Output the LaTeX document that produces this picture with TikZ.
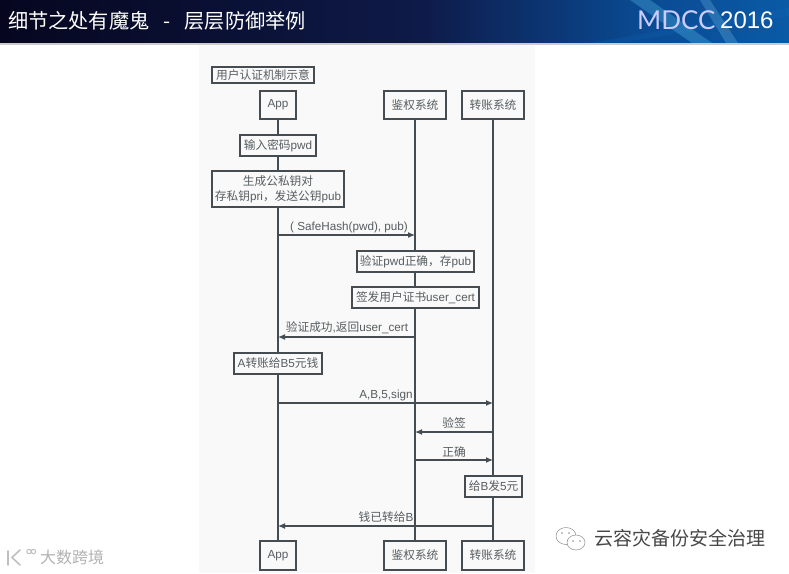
\documentclass[tikz,border=0pt]{standalone}
\usepackage{fontspec}
\setmainfont{Liberation Sans}
\newfontfamily\cjk{Noto Sans CJK SC}
\newfontfamily\latolight{Lato}
\newcommand{\Z}[1]{{\cjk #1}}
\definecolor{ink}{HTML}{454C52}
\definecolor{txt}{HTML}{585D61}
\definecolor{panel}{HTML}{F8F9F8}
\definecolor{hA}{HTML}{06061F}
\definecolor{hB}{HTML}{0E1A48}
\definecolor{hC}{HTML}{0A4A92}
\definecolor{hD}{HTML}{0A5AA6}
\tikzset{
  bx/.style={draw=ink,line width=1.2pt,fill=panel,text=txt,inner sep=0pt,align=center,font=\fontsize{11.7}{15}\selectfont},
  life/.style={draw=ink,line width=1.25pt},
  msg/.style={draw=ink,line width=1.25pt,-{Latex[length=7pt,width=6pt]}},
  lab/.style={text=txt,inner sep=0pt,font=\fontsize{11.7}{14}\selectfont},
}
\usetikzlibrary{arrows.meta}
\newcommand{\boxn}[6]{\node[bx,minimum width=#4pt-#2pt,minimum height=#5pt-#3pt] (#1) at ({(#2+#4)/2},{(#3+#5)/2}) {#6};}
\begin{document}
\begin{tikzpicture}[x=1pt,y=-1pt]
\useasboundingbox (0,0) rectangle (789,573);
\fill[white] (0,0) rectangle (789,573);
% header
\shade[left color=hA,right color=hB] (0,0) rectangle (420,43);
\shade[left color=hB,right color=hC] (420,0) rectangle (640,43);
\shade[left color=hC,right color=hD] (640,0) rectangle (789,43);
\begin{scope}
\clip (0,0) rectangle (789,43);
\fill[cyan!50!blue,opacity=.18] (590,43) -- (789,8) -- (789,16) -- (620,43) -- cycle;
\fill[cyan!60,opacity=.28] (630,0) -- (650,0) -- (712,43) -- (692,43) -- cycle;
\fill[cyan!40,opacity=.22] (700,0) -- (710,0) -- (738,43) -- (726,43) -- cycle;
\end{scope}
\fill[black!20] (0,43) rectangle (789,44.5);
\node[anchor=west,text=white,inner sep=0pt,font=\cjk\fontsize{20.2}{24}\selectfont] (title) at (8,21) {细节之处有魔鬼\hspace{14pt}-\hspace{14pt}层层防御举例};
\node[anchor=west,text=blue!20!white,inner sep=0pt,font=\latolight\fontsize{26}{28}\selectfont] (mdcc) at (637,20) {MDCC};
\node[anchor=west,text=white,inner sep=0pt,font=\fontsize{24}{28}\selectfont] (year) at (720,20) {2016};
% panel
\fill[panel] (199,45) rectangle (535,573);
% top boxes
\boxn{ttl}{212}{67}{314}{83}{\Z{用户认证机制示意}}
\boxn{appT}{260}{91}{296}{119}{App}
\boxn{authT}{384}{91}{446}{119}{\Z{鉴权系统}}
\boxn{payT}{462}{91}{524}{119}{\Z{转账系统}}
\boxn{appB}{260}{541}{296}{570}{App}
\boxn{authB}{384}{541}{446}{570}{\Z{鉴权系统}}
\boxn{payB}{462}{541}{524}{570}{\Z{转账系统}}
% lifelines
\draw[life] (appT) -- (appB);
\draw[life] (authT) -- (authB);
\draw[life] (payT) -- (payB);
% notes
\boxn{n1}{240}{135}{316}{156}{\Z{输入密码}pwd}
\boxn{n2}{212}{171}{344}{207}{\Z{生成公私钥对}\\\Z{存私钥}pri\Z{，发送公钥}pub}
\boxn{n3}{357}{251}{474}{272}{\Z{验证}pwd\Z{正确，存}pub}
\boxn{n4}{352}{287}{479}{308}{\Z{签发用户证书}user\_cert}
\boxn{n5}{234}{353}{322}{374}{A\Z{转账给}B5\Z{元钱}}
\boxn{n6}{465}{476}{522}{497}{\Z{给}B\Z{发}5\Z{元}}
% message end points on the lifelines
\foreach \n/\y in {1/235,2/337,3/403,4/432,5/460,6/526}{
  \coordinate (a\n) at (appT.center |- 0,\y);
  \coordinate (b\n) at (authT.center |- 0,\y);
  \coordinate (c\n) at (payT.center |- 0,\y);
}
\draw[msg] (a1) -- (b1);
\draw[msg] (b2) -- (a2);
\draw[msg] (a3) -- (c3);
\draw[msg] (c4) -- (b4);
\draw[msg] (b5) -- (c5);
\draw[msg] (c6) -- (a6);
\node[lab] (l1) at (349,227) {( SafeHash(pwd), pub)};
\node[lab] (l2) at (347,328) {\Z{验证成功}{,}\Z{返回}user\_cert};
\node[lab] (l3) at (386,395) {A,B,5,sign};
\node[lab] (l4) at (454,423) {\Z{验签}};
\node[lab] (l5) at (454,452) {\Z{正确}};
\node[lab] (l6) at (386,517) {\Z{钱已转给}B};
% watermarks
\node[anchor=west,inner sep=0pt,text=black!30,font=\cjk\fontsize{16}{18}\selectfont] (wm1) at (40,557.5) {大数跨境};
\draw[black!25,line width=1.6pt,line cap=round] (8,551) -- (8,565) (20,550) -- (12,557.5) -- (20,565);
\draw[black!25,line width=1pt] (29,551.5) circle[radius=2.2] (33.5,551.5) circle[radius=2.2];
\draw[black!45,line width=.5pt] (566,536) ellipse[x radius=10,y radius=8.5];
\draw[black!45,line width=.5pt,fill=white] (576,542.5) ellipse[x radius=9,y radius=7.5];
\fill[black!45] (562,533) circle[radius=.8] (569,533) circle[radius=.8] (573,541) circle[radius=.8] (580,541) circle[radius=.8];
\node[anchor=west,inner sep=0pt,text=black!72,font=\cjk\fontsize{19}{22}\selectfont] (wm2) at (594,538) {云容灾备份安全治理};
\end{tikzpicture}
\end{document}
